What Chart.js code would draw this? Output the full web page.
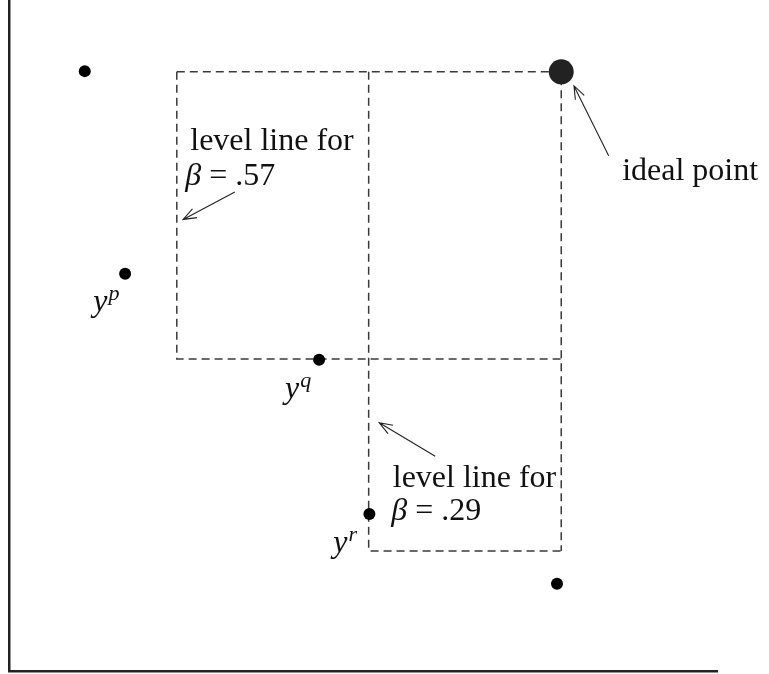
<!DOCTYPE html>
<html>
<head>
<meta charset="utf-8">
<script src="https://cdn.jsdelivr.net/npm/chart.js@4"></script>
<style>
  html, body { margin:0; padding:0; background:#fff; }
  canvas { display:block; }
</style>
</head>
<body>
<canvas id="chart" width="769" height="674"></canvas>
<script>
// Points (abstract units, axes run 0..10)
const pointX = [1.07, 1.64, 4.38, 5.09, 7.74];
const pointY = [8.94, 5.92, 4.64, 2.34, 1.30];
const idealX = [7.80];
const idealY = [8.93];

// Level lines (dashed)
const level57X = [2.37, 2.37, 7.80];
const level57Y = [8.93, 4.65, 4.65];
const level29X = [5.08, 5.08, 7.80];
const level29Y = [8.93, 1.79, 1.79];
const idealBoxX = [2.37, 7.80, 7.80];
const idealBoxY = [8.93, 8.93, 1.79];

// Annotations
const noteText = ['level line for', 'β = .57', 'ideal point', 'level line for', 'β = .29', 'y^p', 'y^q', 'y^r'];
const noteX    = [2.56, 2.49, 8.66, 5.42, 5.40, 1.19, 3.90, 4.58];
const noteY    = [7.76, 7.24, 7.32, 2.74, 2.25, 5.37, 4.07, 1.77];

const arrowFromX = [3.19, 8.47, 6.02];
const arrowFromY = [7.14, 7.68, 3.20];
const arrowToX   = [2.46, 7.98, 5.23];
const arrowToY   = [6.73, 8.72, 3.70];

const zip = (xs, ys) => xs.map((x, i) => ({ x, y: ys[i] }));

const SERIF = '"Liberation Serif", "Times New Roman", serif';

function drawNote(ctx, text, px, py){
  if(text.includes('^')){
    const [base, sup] = text.split('^');
    ctx.font = `italic 32px ${SERIF}`;
    ctx.fillText(base, px, py);
    const w = ctx.measureText(base).width;
    ctx.font = `italic 22px ${SERIF}`;
    ctx.fillText(sup, px + w + 1, py - 11);
    return;
  }
  if(text.startsWith('β')){
    ctx.font = `italic 32px ${SERIF}`;
    ctx.fillText('β', px, py);
    const w = ctx.measureText('β').width;
    ctx.font = `32px ${SERIF}`;
    ctx.fillText(text.slice(1), px + w, py);
    return;
  }
  ctx.font = `32px ${SERIF}`;
  ctx.fillText(text, px, py);
}

function drawArrow(ctx, x0, y0, x1, y1){
  const ang = Math.atan2(y1 - y0, x1 - x0);
  const len = 14, spread = 0.36;
  ctx.beginPath();
  ctx.moveTo(x0, y0);
  ctx.lineTo(x1, y1);
  ctx.moveTo(x1 - len*Math.cos(ang - spread), y1 - len*Math.sin(ang - spread));
  ctx.lineTo(x1, y1);
  ctx.lineTo(x1 - len*Math.cos(ang + spread), y1 - len*Math.sin(ang + spread));
  ctx.stroke();
}

const notesPlugin = {
  id: 'notes',
  afterDatasetsDraw(chart){
    const { ctx, scales: { x, y } } = chart;
    ctx.save();
    ctx.fillStyle = '#111';
    ctx.textBaseline = 'alphabetic';
    ctx.textAlign = 'left';
    noteText.forEach((t, i) => {
      drawNote(ctx, t, x.getPixelForValue(noteX[i]), y.getPixelForValue(noteY[i]));
    });
    ctx.strokeStyle = '#222';
    ctx.lineWidth = 1.1;
    arrowFromX.forEach((_, i) => {
      drawArrow(ctx,
        x.getPixelForValue(arrowFromX[i]), y.getPixelForValue(arrowFromY[i]),
        x.getPixelForValue(arrowToX[i]), y.getPixelForValue(arrowToY[i]));
    });
    ctx.restore();
  }
};

const dashed = (data) => ({
  data, showLine: true, fill: false, order: 1,
  borderColor: '#3a3a3a', borderWidth: 1.5, borderDash: [8, 5],
  pointRadius: 0, pointHoverRadius: 0
});

const axis = (min, max, fitKey) => ({
  type: 'linear', min, max,
  ticks: { display: false },
  grid: { display: false },
  border: { display: true, color: '#222', width: 2.5 },
  afterFit: s => { s[fitKey] = 0; }
});

new Chart(document.getElementById('chart'), {
  type: 'scatter',
  data: {
    datasets: [
      { data: zip(pointX, pointY), order: 0, pointRadius: 6, pointHoverRadius: 6,
        pointBackgroundColor: '#000', pointBorderWidth: 0 },
      { data: zip(idealX, idealY), order: 0, pointRadius: 12.5, pointHoverRadius: 12.5,
        pointBackgroundColor: '#222', pointBorderWidth: 0 },
      dashed(zip(level57X, level57Y)),
      dashed(zip(level29X, level29Y)),
      dashed(zip(idealBoxX, idealBoxY))
    ]
  },
  options: {
    responsive: false,
    devicePixelRatio: 1,
    animation: false,
    layout: { autoPadding: false, padding: { left: 9, right: 52, top: 0, bottom: 3 } },
    plugins: { legend: { display: false }, tooltip: { enabled: false } },
    scales: {
      x: axis(0, 10, 'height'),
      y: axis(0, 10, 'width')
    }
  },
  plugins: [notesPlugin]
});
</script>
</body>
</html>
